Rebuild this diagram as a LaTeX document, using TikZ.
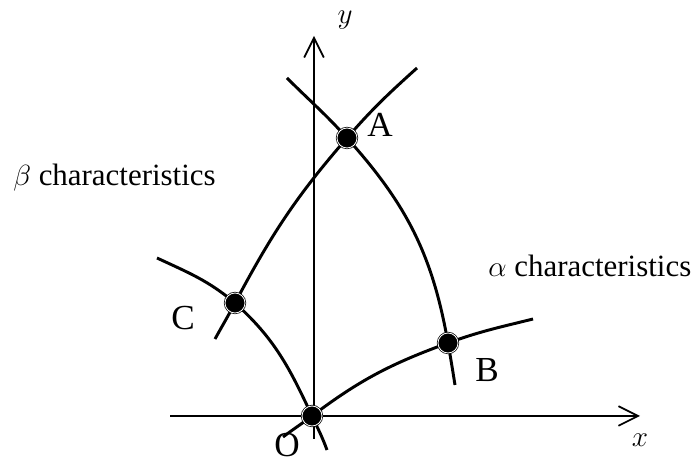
\documentclass[tikz,border=0pt]{standalone}
\usepackage{fontspec}
\setmainfont{Liberation Serif}
\usetikzlibrary{arrows.meta}

\begin{document}
\begin{tikzpicture}[x=0.025cm, y=0.025cm,
  eje/.style={line width=1.2pt, -{Straight Barb[length=14pt, width=14pt]}},
  caract/.style={line width=2.1pt},
  punto/.style={circle, fill=black, draw=black, double=white, double distance=0.6pt, line width=0.5pt, minimum size=0.5cm, inner sep=0pt},
  letra/.style={font=\fontsize{22}{26}\selectfont},
  rotulo/.style={font=\fontsize{25}{30}\selectfont}]
\useasboundingbox (0,0) rectangle (699,464);
\coordinate (xIni) at (170,48);
\coordinate (xFin) at (640,48);
\coordinate (yIni) at (314,25);
\coordinate (yFin) at (314,428);
\coordinate (O) at (312,48);
\coordinate (A) at (347,326);
\coordinate (B) at (448,121);
\coordinate (C) at (235,161);
\coordinate (a1s) at (283,27);
\coordinate (a1e) at (533,145);
\coordinate (a2s) at (215,125);
\coordinate (a2e) at (417,396);
\coordinate (b1s) at (157,206);
\coordinate (b1e) at (327,14);
\coordinate (b2s) at (287,386);
\coordinate (b2e) at (455,79);
\draw[eje] (xIni) -- (xFin);
\draw[eje] (yIni) -- (yFin);
\draw[caract] (a1s) to[out=37,in=217] (O) to[out=37,in=200] (B) to[out=20,in=194] (a1e);
\draw[caract] (a2s) to[out=61,in=242] (C) to[out=62,in=229] (A) to[out=49,in=222] (a2e);
\draw[caract] (b1s) to[out=-25,in=140] (C) to[out=-42,in=115] (O) to[out=-65,in=110] (b1e);
\draw[caract] (b2s) to[out=-45,in=132] (A) to[out=-48,in=100] (B) to[out=-80,in=99] (b2e);
\node[punto] (pO) at (O) {};
\node[punto] (pA) at (A) {};
\node[punto] (pB) at (B) {};
\node[punto] (pC) at (C) {};
\node[rotulo] (lA) at (380,339) {A};
\node[rotulo] (lB) at (487,94) {B};
\node[rotulo] (lC) at (183,146) {C};
\node[rotulo] (lO) at (287,19) {O};
\node[letra] (ly) at (345,444) {$y$};
\node[letra] (lx) at (640,24) {$x$};
\node[letra, anchor=base west, inner sep=0pt] (lbeta) at (13,278) {$\beta$ characteristics};
\node[letra, anchor=base west, inner sep=0pt] (lalpha) at (488,187) {$\alpha$ characteristics};
\end{tikzpicture}
\end{document}
